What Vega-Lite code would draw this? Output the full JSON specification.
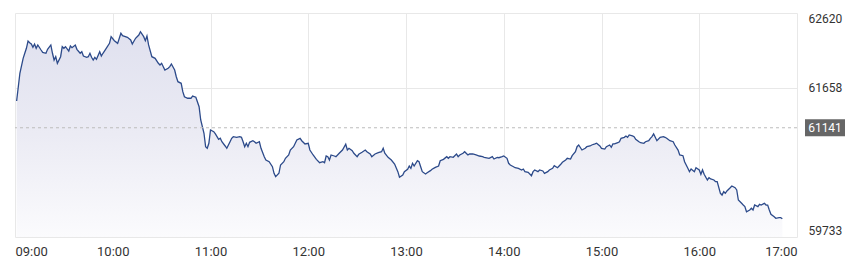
{
"$schema": "https://vega.github.io/schema/vega-lite/v6.json",
"width": 782, "height": 224,
"autosize": "none",
"padding": {"left": 15, "top": 13, "right": 55, "bottom": 29},
"background": "white",
"config": {"view": {"stroke": null}, "font": "Roboto",
  "axis": {"labelFont": "Roboto", "labelColor": "#333333", "labelFontSize": 12, "gridColor": "#e8e8e8", "gridWidth": 1, "ticks": false, "domain": false}},
"layer": [
{"data": {"values": [
{"t":"09:01","v":61486},{"t":"09:03","v":61843},{"t":"09:05","v":62036},{"t":"09:06","v":62101},{"t":"09:07","v":62165},{"t":"09:08","v":62259},{"t":"09:09","v":62237},{"t":"09:10","v":62220},{"t":"09:11","v":62178},{"t":"09:12","v":62220},{"t":"09:13","v":62165},{"t":"09:14","v":62208},{"t":"09:16","v":62143},{"t":"09:17","v":62113},{"t":"09:19","v":62101},{"t":"09:20","v":62152},{"t":"09:22","v":62208},{"t":"09:23","v":62101},{"t":"09:24","v":62014},{"t":"09:25","v":62057},{"t":"09:26","v":61972},{"t":"09:28","v":62057},{"t":"09:29","v":62186},{"t":"09:30","v":62165},{"t":"09:31","v":62186},{"t":"09:33","v":62130},{"t":"09:34","v":62195},{"t":"09:35","v":62173},{"t":"09:37","v":62208},{"t":"09:38","v":62152},{"t":"09:40","v":62101},{"t":"09:41","v":62121},{"t":"09:42","v":62066},{"t":"09:44","v":62049},{"t":"09:45","v":62057},{"t":"09:46","v":62101},{"t":"09:47","v":62049},{"t":"09:48","v":62014},{"t":"09:49","v":62049},{"t":"09:50","v":62023},{"t":"09:52","v":62121},{"t":"09:53","v":62066},{"t":"09:54","v":62101},{"t":"09:56","v":62165},{"t":"09:58","v":62229},{"t":"09:59","v":62315},
{"t":"10:01","v":62263},{"t":"10:03","v":62229},{"t":"10:05","v":62358},{"t":"10:06","v":62327},{"t":"10:09","v":62307},{"t":"10:11","v":62272},{"t":"10:12","v":62220},{"t":"10:14","v":62294},{"t":"10:16","v":62336},{"t":"10:17","v":62379},{"t":"10:19","v":62315},{"t":"10:20","v":62263},{"t":"10:21","v":62324},{"t":"10:22","v":62208},{"t":"10:24","v":62057},{"t":"10:26","v":62036},{"t":"10:28","v":61972},{"t":"10:29","v":61950},{"t":"10:30","v":61972},{"t":"10:32","v":61885},{"t":"10:34","v":61907},{"t":"10:35","v":61928},{"t":"10:36","v":61963},{"t":"10:38","v":61885},{"t":"10:39","v":61799},{"t":"10:40","v":61735},{"t":"10:42","v":61714},{"t":"10:43","v":61606},{"t":"10:44","v":61541},{"t":"10:46","v":61521},{"t":"10:48","v":61521},{"t":"10:49","v":61550},{"t":"10:51","v":61534},{"t":"10:53","v":61412},{"t":"10:54","v":61241},{"t":"10:56","v":61070},{"t":"10:57","v":60897},{"t":"10:58","v":60876},{"t":"10:59","v":60941},
{"t":"11:00","v":61112},{"t":"11:02","v":61090},{"t":"11:03","v":61061},{"t":"11:04","v":61026},{"t":"11:05","v":60992},{"t":"11:06","v":61005},{"t":"11:07","v":60961},{"t":"11:09","v":60906},{"t":"11:10","v":60876},{"t":"11:12","v":60961},{"t":"11:13","v":61005},{"t":"11:14","v":61026},{"t":"11:16","v":61018},{"t":"11:18","v":61026},{"t":"11:19","v":61018},{"t":"11:20","v":60961},{"t":"11:21","v":60897},{"t":"11:22","v":60941},{"t":"11:23","v":60897},{"t":"11:24","v":60953},{"t":"11:26","v":60974},{"t":"11:27","v":60961},{"t":"11:28","v":60941},{"t":"11:30","v":60961},{"t":"11:31","v":60876},{"t":"11:33","v":60768},{"t":"11:34","v":60725},{"t":"11:36","v":60703},{"t":"11:38","v":60639},{"t":"11:39","v":60554},{"t":"11:40","v":60510},{"t":"11:42","v":60554},{"t":"11:43","v":60661},{"t":"11:45","v":60703},{"t":"11:46","v":60747},{"t":"11:48","v":60790},{"t":"11:49","v":60854},{"t":"11:51","v":60897},{"t":"11:53","v":60983},{"t":"11:55","v":61005},{"t":"11:56","v":60974},{"t":"11:58","v":60932},
{"t":"12:00","v":60941},{"t":"12:01","v":60854},{"t":"12:03","v":60790},{"t":"12:05","v":60734},{"t":"12:07","v":60691},{"t":"12:09","v":60703},{"t":"12:10","v":60691},{"t":"12:11","v":60777},{"t":"12:12","v":60768},{"t":"12:13","v":60725},{"t":"12:14","v":60790},{"t":"12:16","v":60777},{"t":"12:17","v":60768},{"t":"12:19","v":60812},{"t":"12:21","v":60854},{"t":"12:23","v":60928},{"t":"12:24","v":60854},{"t":"12:25","v":60876},{"t":"12:27","v":60845},{"t":"12:28","v":60812},{"t":"12:30","v":60768},{"t":"12:31","v":60799},{"t":"12:33","v":60825},{"t":"12:35","v":60854},{"t":"12:36","v":60832},{"t":"12:38","v":60803},{"t":"12:39","v":60768},{"t":"12:41","v":60803},{"t":"12:43","v":60820},{"t":"12:45","v":60832},{"t":"12:46","v":60876},{"t":"12:47","v":60812},{"t":"12:49","v":60760},{"t":"12:51","v":60725},{"t":"12:53","v":60674},{"t":"12:55","v":60575},{"t":"12:56","v":60503},{"t":"12:58","v":60532},{"t":"12:59","v":60575},
{"t":"13:01","v":60606},{"t":"13:02","v":60648},{"t":"13:03","v":60618},{"t":"13:04","v":60683},{"t":"13:05","v":60648},{"t":"13:07","v":60716},{"t":"13:08","v":60703},{"t":"13:09","v":60639},{"t":"13:10","v":60575},{"t":"13:12","v":60545},{"t":"13:13","v":60562},{"t":"13:15","v":60588},{"t":"13:16","v":60606},{"t":"13:18","v":60631},{"t":"13:20","v":60648},{"t":"13:21","v":60716},{"t":"13:23","v":60734},{"t":"13:25","v":60768},{"t":"13:26","v":60747},{"t":"13:27","v":60768},{"t":"13:29","v":60760},{"t":"13:31","v":60803},{"t":"13:32","v":60768},{"t":"13:33","v":60790},{"t":"13:35","v":60812},{"t":"13:36","v":60832},{"t":"13:38","v":60790},{"t":"13:39","v":60803},{"t":"13:41","v":60803},{"t":"13:43","v":60790},{"t":"13:45","v":60777},{"t":"13:47","v":60768},{"t":"13:48","v":60760},{"t":"13:51","v":60747},{"t":"13:53","v":60768},{"t":"13:54","v":60738},{"t":"13:56","v":60760},{"t":"13:57","v":60755},{"t":"13:59","v":60768},
{"t":"14:00","v":60777},{"t":"14:02","v":60747},{"t":"14:03","v":60683},{"t":"14:04","v":60661},{"t":"14:06","v":60639},{"t":"14:07","v":60626},{"t":"14:09","v":60618},{"t":"14:11","v":60597},{"t":"14:12","v":60609},{"t":"14:13","v":60575},{"t":"14:15","v":60567},{"t":"14:17","v":60523},{"t":"14:18","v":60575},{"t":"14:19","v":60597},{"t":"14:21","v":60575},{"t":"14:22","v":60597},{"t":"14:24","v":60584},{"t":"14:25","v":60554},{"t":"14:27","v":60575},{"t":"14:28","v":60597},{"t":"14:30","v":60618},{"t":"14:31","v":60652},{"t":"14:33","v":60626},{"t":"14:35","v":60670},{"t":"14:36","v":60696},{"t":"14:38","v":60725},{"t":"14:39","v":60747},{"t":"14:41","v":60738},{"t":"14:42","v":60781},{"t":"14:44","v":60832},{"t":"14:45","v":60897},{"t":"14:46","v":60919},{"t":"14:48","v":60854},{"t":"14:50","v":60876},{"t":"14:51","v":60897},{"t":"14:53","v":60906},{"t":"14:54","v":60919},{"t":"14:56","v":60932},{"t":"14:57","v":60941},{"t":"14:59","v":60906},
{"t":"15:00","v":60876},{"t":"15:02","v":60867},{"t":"15:03","v":60897},{"t":"15:05","v":60919},{"t":"15:06","v":60889},{"t":"15:07","v":60932},{"t":"15:08","v":60932},{"t":"15:10","v":60948},{"t":"15:11","v":60961},{"t":"15:12","v":61005},{"t":"15:14","v":61018},{"t":"15:15","v":61035},{"t":"15:16","v":61018},{"t":"15:17","v":61048},{"t":"15:19","v":61035},{"t":"15:20","v":61026},{"t":"15:21","v":60992},{"t":"15:23","v":60961},{"t":"15:24","v":60948},{"t":"15:26","v":60941},{"t":"15:27","v":60961},{"t":"15:29","v":60974},{"t":"15:30","v":61005},{"t":"15:31","v":61026},{"t":"15:32","v":61061},{"t":"15:33","v":61018},{"t":"15:34","v":60974},{"t":"15:36","v":61018},{"t":"15:38","v":61026},{"t":"15:39","v":61018},{"t":"15:40","v":61005},{"t":"15:42","v":60974},{"t":"15:44","v":60961},{"t":"15:45","v":60919},{"t":"15:47","v":60854},{"t":"15:48","v":60790},{"t":"15:50","v":60781},{"t":"15:51","v":60703},{"t":"15:53","v":60618},{"t":"15:54","v":60575},{"t":"15:55","v":60609},{"t":"15:57","v":60575},{"t":"15:58","v":60626},
{"t":"16:00","v":60597},{"t":"16:01","v":60541},{"t":"16:02","v":60597},{"t":"16:03","v":60541},{"t":"16:05","v":60468},{"t":"16:06","v":60497},{"t":"16:07","v":60481},{"t":"16:09","v":60468},{"t":"16:10","v":60446},{"t":"16:11","v":60446},{"t":"16:13","v":60296},{"t":"16:14","v":60274},{"t":"16:15","v":60317},{"t":"16:16","v":60296},{"t":"16:17","v":60326},{"t":"16:19","v":60368},{"t":"16:20","v":60390},{"t":"16:22","v":60368},{"t":"16:23","v":60339},{"t":"16:24","v":60210},{"t":"16:26","v":60167},{"t":"16:27","v":60145},{"t":"16:28","v":60124},{"t":"16:29","v":60059},{"t":"16:31","v":60081},{"t":"16:32","v":60103},{"t":"16:33","v":60081},{"t":"16:34","v":60145},{"t":"16:36","v":60124},{"t":"16:37","v":60154},{"t":"16:38","v":60145},{"t":"16:40","v":60167},{"t":"16:41","v":60145},{"t":"16:42","v":60145},{"t":"16:43","v":60081},{"t":"16:44","v":60026},{"t":"16:46","v":59995},{"t":"16:47","v":59974},{"t":"16:49","v":59982},{"t":"16:50","v":59982},{"t":"16:51","v":59969}
], "format": {"parse": {"t": "date:'%H:%M'"}}},
 "mark": {"type": "area", "clip": true, "opacity": 1, "fillOpacity": 1,
   "line": {"color": "#2c4a8a", "strokeWidth": 1.3},
   "fill": {"gradient": "linear", "x1": 1, "y1": 0, "x2": 1, "y2": 1, "stops": [{"offset": 0, "color": "#e0e1ef"}, {"offset": 0.5, "color": "#ebebf4"}, {"offset": 1, "color": "#fbfbfd"}]}},
 "encoding": {
   "x": {"field": "t", "type": "temporal",
     "scale": {"domain": [{"year": 1900, "month": 1, "date": 1, "hours": 9, "minutes": 0}, {"year": 1900, "month": 1, "date": 1, "hours": 17, "minutes": 0}]},
     "axis": {"title": null, "format": "%H:%M", "tickCount": 8, "labelFlush": true, "labelPadding": 8, "labelFontSize": 13, "grid": true}},
   "y": {"field": "v", "type": "quantitative",
     "scale": {"domain": [59733, 62620], "zero": false, "nice": false},
     "axis": {"title": null, "orient": "right", "values": [59733, 61658, 62620], "format": "d", "labelFlush": true, "labelPadding": 11, "grid": true}},
   "y2": {"datum": 59733}
 }
},
{"data": {"values": [{"prevClose": 61141}]},
 "mark": {"type": "rule", "color": "#bdbdbd", "strokeDash": [3, 3], "strokeWidth": 1},
 "encoding": {"y": {"field": "prevClose", "type": "quantitative"}}
},
{"data": {"values": [{"prevClose": 61141}]},
 "mark": {"type": "point", "shape": "M-1,-0.425H1V0.425H-1Z", "size": 1600, "filled": true, "color": "#666666", "opacity": 1, "strokeWidth": 0, "xOffset": 28},
 "encoding": {"y": {"field": "prevClose", "type": "quantitative"}, "x": {"value": "width"}}
},
{"data": {"values": [{"prevClose": 61141}]},
 "mark": {"type": "text", "color": "white", "fontSize": 12, "font": "Roboto", "align": "center", "baseline": "middle", "dx": 28},
 "encoding": {"y": {"field": "prevClose", "type": "quantitative"}, "x": {"value": "width"}, "text": {"field": "prevClose", "type": "quantitative", "format": "d"}}
}
]
}
